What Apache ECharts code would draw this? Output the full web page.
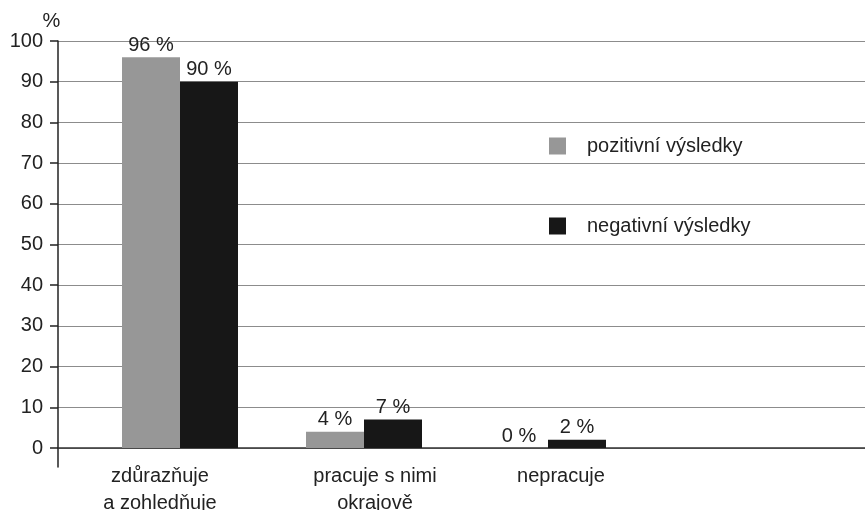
<!DOCTYPE html>
<html>
<head>
<meta charset="utf-8">
<script src="https://cdn.jsdelivr.net/npm/echarts@6/dist/echarts.min.js"></script>
<style>
  html, body { margin: 0; padding: 0; background: #fff; }
  #chart { width: 865px; height: 510px; }
</style>
</head>
<body>
<div id="chart"></div>
<script>
const categories = ['zdůrazňuje\na zohledňuje', 'pracuje s nimi\nokrajově', 'nepracuje'];
const positive = [96, 4, 0];
const negative = [90, 7, 2];
const seriesNames = ['pozitivní výsledky', 'negativní výsledky'];

const FONT = 'Liberation Sans';
const TEXT = '#222';

const chart = echarts.init(document.getElementById('chart'));

// posun popisků kategorií oproti středu skupiny sloupců
const labelPad = [[0, 40, 0, 0], [0, 0, 0, 22], [0, 0, 0, 26]];
const rich = {};
labelPad.forEach((p, i) => {
  rich['c' + i] = { fontSize: 20, fontFamily: FONT, color: TEXT, lineHeight: 27, padding: p, align: 'center' };
});

chart.setOption({
  animation: false,
  grid: [
    { left: 58, right: 0, top: 41, bottom: 62, outerBoundsMode: 'none' },
    { left: 88, right: 225, top: 41, bottom: 62, outerBoundsMode: 'none' },
    { left: 58, width: 1, top: 448, height: 19, outerBoundsMode: 'none' }
  ],
  legend: {
    orient: 'vertical',
    left: 544,
    top: 131,
    icon: 'rect',
    itemWidth: 17,
    itemHeight: 17,
    itemGap: 60,
    textStyle: { fontSize: 20, fontFamily: FONT, color: TEXT, padding: [0, 0, 0, 16] },
    data: seriesNames
  },
  xAxis: [
    {
      gridIndex: 0, type: 'value', min: 0, max: 1,
      axisLine: { show: true, lineStyle: { color: '#333', width: 1.5 } },
      axisTick: { show: false }, axisLabel: { show: false }, splitLine: { show: false }
    },
    {
      gridIndex: 1, type: 'category', data: categories,
      axisLine: { show: false }, axisTick: { show: false },
      axisLabel: {
        margin: 15,
        formatter: (value, index) => '{c' + index + '|' + value + '}',
        rich: rich
      }
    },
    { gridIndex: 2, type: 'value', show: false }
  ],
  yAxis: [
    {
      gridIndex: 0, type: 'value', min: 0, max: 100, interval: 10,
      name: '%', nameLocation: 'end', nameGap: 6,
      nameTextStyle: { fontSize: 20, fontFamily: FONT, color: TEXT, padding: [0, 13, 0, 0] },
      axisLine: { show: true, lineStyle: { color: '#222', width: 1.5 } },
      axisTick: { show: true, inside: false, length: 8, lineStyle: { color: '#222', width: 1.5 } },
      axisLabel: { margin: 15, fontSize: 20, fontFamily: FONT, color: TEXT },
      splitLine: { show: true, lineStyle: { color: '#8c8c8c', width: 1.2 } }
    },
    { gridIndex: 1, type: 'value', min: 0, max: 100, show: false },
    {
      gridIndex: 2, type: 'value', min: 0, max: 1,
      axisLine: { show: true, lineStyle: { color: '#222', width: 1.5 } },
      axisTick: { show: false }, axisLabel: { show: false }, splitLine: { show: false }
    }
  ],
  series: [
    {
      name: seriesNames[0], type: 'bar', xAxisIndex: 1, yAxisIndex: 1,
      data: positive, barWidth: 58, barGap: '0%',
      itemStyle: { color: '#979797' },
      label: { show: true, position: 'top', distance: 2, formatter: '{c} %', fontSize: 20, fontFamily: FONT, color: TEXT }
    },
    {
      name: seriesNames[1], type: 'bar', xAxisIndex: 1, yAxisIndex: 1,
      data: negative, barWidth: 58, barGap: '0%',
      itemStyle: { color: '#171717' },
      label: { show: true, position: 'top', distance: 2, formatter: '{c} %', fontSize: 20, fontFamily: FONT, color: TEXT }
    }
  ]
});
</script>
</body>
</html>
